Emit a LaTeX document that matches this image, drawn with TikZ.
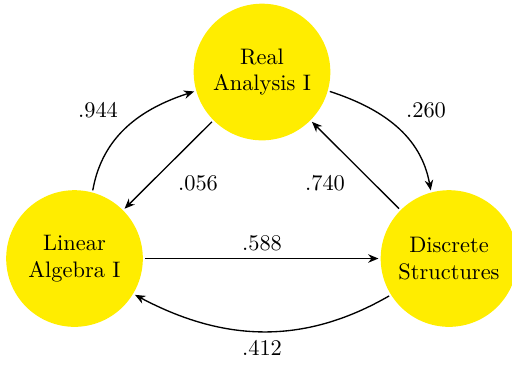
\documentclass[tikz,border=0pt]{standalone}
\usetikzlibrary{arrows.meta}
\definecolor{cyel}{RGB}{255,237,0}
\begin{document}
\begin{tikzpicture}[x=0.4464pt,y=-0.4464pt,
  course/.style={circle,fill=cyel,minimum size=61pt,inner sep=0pt,align=center,outer sep=1pt},
  link/.style={-{Stealth[length=4.6pt,width=3.8pt]},semithick},
  lab/.style={inner sep=1pt}]
\useasboundingbox (0,0) rectangle (512,367);
\node[course] (T) at (262,72) {Real\\Analysis I};
\node[course] (L) at (74.5,258.5) {Linear\\Algebra I};
\node[course] (R) at (449,258.5) {Discrete\\Structures};
\draw[link] (L.75) to[out=80,in=198] (T.196);
\draw[link] (T.-16) to[out=-18,in=100] (R.105);
\draw[link] (T) -- (L);
\draw[link] (R) -- (T);
\draw[link] (L) -- (R);
\draw[link] (R.212) to[out=210,in=-28] (L.-31);
\node[lab] (a) at (98,110) {.944};
\node[lab] (b) at (198,183) {.056};
\node[lab] (c) at (426,110) {.260};
\node[lab] (d) at (325,183) {.740};
\node[lab] (e) at (262,243) {.588};
\node[lab] (f) at (262,348) {.412};
\end{tikzpicture}
\end{document}
